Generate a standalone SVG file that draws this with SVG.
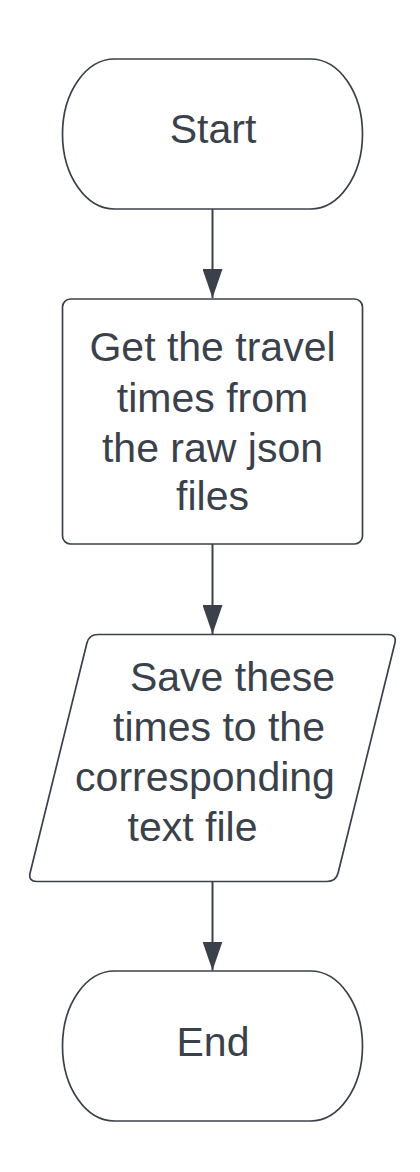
<svg xmlns="http://www.w3.org/2000/svg" width="420" height="1172" viewBox="0 0 420 1172">
  <style>
    .shape { fill: #ffffff; stroke: #3a414a; stroke-width: 1.7; }
    .label { font-family: "Liberation Sans", Arial, sans-serif; font-size: 41px; fill: #3a414a; }
    .mid { text-anchor: middle; }
    .conn { stroke: #3a414a; stroke-width: 2; fill: none; marker-end: url(#arrow); }
  </style>
  <defs>
    <marker id="arrow" markerUnits="userSpaceOnUse" viewBox="0 -10 29 20" refX="29" refY="0" markerWidth="29" markerHeight="20" orient="auto">
      <path d="M0,-10 L29,0 L0,10 Z" fill="#3a414a"/>
    </marker>
  </defs>
  <rect width="420" height="1172" fill="#ffffff"/>

  <g id="connectors">
    <path class="conn" d="M212.5,209 L212.5,298"/>
    <path class="conn" d="M212.5,544 L212.5,634"/>
    <path class="conn" d="M212.5,882 L212.5,970.5"/>
  </g>

  <g id="start">
    <rect class="shape" x="62.5" y="59" width="300" height="150" rx="52" ry="75"/>
    <text class="label mid" x="213" y="143">Start</text>
  </g>

  <g id="get-times">
    <rect class="shape" x="62.5" y="299" width="300" height="245" rx="8" ry="8"/>
    <text class="label mid" x="212.5" y="361">Get the travel</text>
    <text class="label mid" x="212.5" y="412">times from</text>
    <text class="label mid" x="212.5" y="462">the raw json</text>
    <text class="label mid" x="212.5" y="510">files</text>
  </g>

  <g id="save-times">
    <path class="shape" d="M98,634.5 L388,634.5 Q397,634.5 394.84,643.24 L338.16,872.76 Q336,881.5 327,881.5 L37,881.5 Q28,881.5 30.16,872.76 L86.84,643.24 Q89,634.5 98,634.5 Z"/>
    <text class="label mid" x="232.5" y="691">Save these</text>
    <text class="label mid" x="219" y="741">times to the</text>
    <text class="label mid" x="205" y="791">corresponding</text>
    <text class="label mid" x="192.5" y="841">text file</text>
  </g>

  <g id="end">
    <rect class="shape" x="62.5" y="971" width="300" height="150" rx="52" ry="75"/>
    <text class="label mid" x="213" y="1056">End</text>
  </g>
</svg>
